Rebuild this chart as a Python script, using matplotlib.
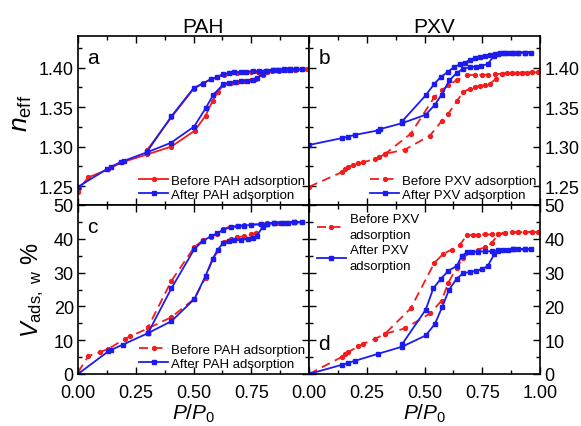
import matplotlib
matplotlib.use("Agg")
import matplotlib.pyplot as plt
from matplotlib.ticker import MultipleLocator

plt.rcParams['font.family'] = ['Liberation Sans', 'DejaVu Sans']
plt.rcParams['mathtext.fontset'] = 'custom'
plt.rcParams['mathtext.rm'] = 'Liberation Sans'
plt.rcParams['mathtext.it'] = 'Liberation Sans:italic'

# ---------------- Panel a: n_eff, PAH ----------------
a_before_x = [0.0, 0.005, 0.045, 0.13, 0.19, 0.299, 0.404, 0.505, 0.552, 0.583, 0.605, 0.629,
              0.662, 0.69, 0.72, 0.75, 0.77, 0.80, 0.82, 0.85, 0.88, 0.91, 0.94, 0.97, 0.99,
              0.97, 0.94, 0.91, 0.87, 0.84, 0.81, 0.78, 0.75, 0.72, 0.69, 0.66, 0.63, 0.60,
              0.575, 0.54, 0.50, 0.404, 0.299]
a_before_y = [1.243, 1.247, 1.261, 1.271, 1.280, 1.290, 1.300, 1.320, 1.339, 1.358, 1.369, 1.3775,
              1.381, 1.382, 1.383, 1.384, 1.386, 1.391, 1.395, 1.397, 1.3975, 1.398, 1.398, 1.398, 1.398,
              1.398, 1.397, 1.3965, 1.396, 1.3958, 1.3955, 1.395, 1.3945, 1.394, 1.3935, 1.393, 1.391, 1.388,
              1.385, 1.380, 1.373, 1.337, 1.2955]
a_after_x = [0.0, 0.126, 0.145, 0.188, 0.198, 0.299, 0.402, 0.503, 0.552, 0.586, 0.629, 0.655,
             0.681, 0.705, 0.730, 0.756, 0.774, 0.799, 0.820, 0.842, 0.866, 0.892, 0.918, 0.943, 0.971,
             0.943, 0.918, 0.892, 0.866, 0.842, 0.813, 0.784, 0.756, 0.727, 0.705, 0.677, 0.655, 0.629,
             0.602, 0.576, 0.540, 0.501, 0.404, 0.299]
a_after_y = [1.249, 1.2716, 1.2746, 1.2809, 1.2818, 1.2928, 1.3047, 1.3254, 1.3483, 1.3657, 1.3788, 1.381,
             1.3818, 1.3826, 1.3835, 1.3847, 1.3869, 1.3924, 1.3958, 1.397, 1.3975, 1.3979, 1.3979, 1.3979, 1.3979,
             1.3979, 1.3975, 1.3975, 1.397, 1.3966, 1.3962, 1.3958, 1.3953, 1.3949, 1.3945, 1.394, 1.3928, 1.392,
             1.388, 1.3856, 1.3797, 1.3742, 1.3381, 1.2936]

# ---------------- Panel b: n_eff, PXV ----------------
b_before_x = [0.0, 0.141, 0.156, 0.170, 0.192, 0.213, 0.235, 0.286, 0.303, 0.329, 0.416, 0.524,
              0.574, 0.603, 0.639, 0.668, 0.697, 0.719, 0.740, 0.762, 0.784, 0.810, 0.834, 0.856,
              0.878, 0.900, 0.920, 0.942, 0.965, 0.993,
              0.965, 0.920, 0.878, 0.834, 0.805, 0.776, 0.747, 0.719, 0.683, 0.639, 0.603, 0.574,
              0.543, 0.440, 0.329]
b_before_y = [1.249, 1.2674, 1.2716, 1.2737, 1.2767, 1.2788, 1.2801, 1.2843, 1.2864, 1.2907, 1.2962, 1.314,
              1.3322, 1.3415, 1.3572, 1.3691, 1.3733, 1.3754, 1.3767, 1.378, 1.3797, 1.3860, 1.3924, 1.3932,
              1.3932, 1.3932, 1.3936, 1.3936, 1.394, 1.394,
              1.394, 1.3936, 1.3932, 1.3924, 1.3915, 1.3911, 1.3907, 1.3907, 1.3903, 1.3839, 1.3775, 1.3712,
              1.3627, 1.3161, 1.2907]
b_after_x = [0.0, 0.141, 0.170, 0.199, 0.297, 0.307, 0.404, 0.505, 0.545, 0.574, 0.608, 0.639,
             0.668, 0.697, 0.721, 0.745, 0.773, 0.802, 0.820, 0.841, 0.863, 0.885, 0.906, 0.935, 0.961,
             0.935, 0.906, 0.877, 0.848, 0.827, 0.805, 0.784, 0.762, 0.740, 0.719, 0.697, 0.675, 0.654,
             0.629, 0.600, 0.571, 0.543, 0.505, 0.404]
b_after_y = [1.302, 1.3106, 1.3127, 1.3148, 1.3203, 1.322, 1.3297, 1.3403, 1.353, 1.3657, 1.3839, 1.3932,
             1.3987, 1.4004, 1.4012, 1.4025, 1.4042, 1.4153, 1.4178, 1.4187, 1.4191, 1.4191, 1.4191, 1.4191, 1.4191,
             1.4191, 1.4191, 1.4191, 1.4191, 1.4187, 1.4174, 1.4157, 1.4148, 1.4131, 1.4119, 1.4097, 1.4064, 1.4042,
             1.4008, 1.3945, 1.3881, 1.3797, 1.3648, 1.3322]

# ---------------- Panel c: V_ads,w %, PAH ----------------
c_before_x = [0.0, 0.045, 0.095, 0.131, 0.203, 0.225, 0.303, 0.404, 0.504, 0.552, 0.583, 0.608,
              0.634, 0.662, 0.690, 0.720, 0.748, 0.770, 0.799, 0.820, 0.850, 0.880, 0.910, 0.940, 0.971,
              0.940, 0.900, 0.860, 0.820, 0.790, 0.750, 0.720, 0.690, 0.660, 0.629, 0.602, 0.576, 0.540,
              0.504, 0.404, 0.303]
c_before_y = [0.5, 5.3, 6.5, 7.4, 10.4, 11.1, 13.5, 16.8, 22.3, 28.5, 33.9, 36.6,
              39.1, 40.0, 40.5, 40.8, 41.3, 41.8, 43.8, 44.4, 44.6, 44.7, 44.8, 44.9, 44.9,
              44.9, 44.8, 44.7, 44.6, 44.4, 44.2, 44.0, 43.8, 43.6, 42.9, 41.5, 40.5, 39.5,
              37.6, 27.5, 13.8]
c_after_x = [0.0, 0.131, 0.145, 0.195, 0.303, 0.404, 0.504, 0.552, 0.583, 0.605, 0.629, 0.655,
             0.677, 0.705, 0.734, 0.756, 0.774, 0.799, 0.820, 0.849, 0.878, 0.907, 0.935, 0.971,
             0.935, 0.892, 0.849, 0.820, 0.791, 0.749, 0.720, 0.691, 0.662, 0.629, 0.602, 0.576, 0.540,
             0.504, 0.404, 0.303]
c_after_y = [0.0, 6.7, 7.2, 8.7, 12.1, 15.6, 22.2, 29.0, 34.1, 36.8, 38.8, 39.3,
             39.5, 39.7, 39.9, 40.1, 40.8, 43.5, 44.4, 44.6, 44.7, 44.8, 44.9, 44.9,
             44.9, 44.8, 44.7, 44.5, 44.3, 44.1, 43.9, 43.7, 43.5, 42.7, 41.6, 40.8, 39.3,
             37.0, 25.3, 12.1]

# ---------------- Panel d: V_ads,w %, PXV ----------------
d_before_x = [0.0, 0.141, 0.156, 0.170, 0.214, 0.235, 0.286, 0.329, 0.416, 0.524, 0.574, 0.603,
              0.639, 0.668, 0.701, 0.733, 0.762, 0.791, 0.820, 0.848, 0.877, 0.906, 0.935, 0.964, 0.993,
              0.964, 0.906, 0.848, 0.820, 0.791, 0.762, 0.733, 0.711, 0.683, 0.654, 0.618, 0.582,
              0.543, 0.440, 0.329]
d_before_y = [0.0, 5.0, 6.0, 6.5, 8.2, 8.9, 10.4, 11.9, 13.5, 17.9, 21.7, 27.0,
              31.5, 34.4, 36.1, 36.8, 37.5, 38.8, 41.3, 41.7, 41.9, 41.9, 42.0, 42.0, 42.0,
              42.0, 41.9, 41.7, 41.5, 41.3, 41.3, 41.2, 41.2, 41.0, 38.3, 36.8, 35.6,
              32.9, 19.4, 11.9]
d_after_x = [0.0, 0.141, 0.170, 0.199, 0.300, 0.404, 0.505, 0.545, 0.577, 0.606, 0.639, 0.668,
             0.697, 0.721, 0.747, 0.773, 0.802, 0.820, 0.841, 0.863, 0.885, 0.906, 0.935, 0.961,
             0.935, 0.885, 0.820, 0.791, 0.762, 0.733, 0.704, 0.683, 0.661, 0.640, 0.603, 0.571,
             0.538, 0.505, 0.404]
d_after_y = [0.0, 2.7, 3.3, 3.9, 6.0, 8.1, 11.4, 14.8, 19.9, 24.9, 28.2, 29.8,
             30.2, 30.5, 31.0, 31.9, 35.4, 36.4, 36.8, 36.8, 36.9, 36.9, 36.9, 36.9,
             36.9, 36.9, 36.6, 36.3, 36.3, 36.2, 36.1, 36.0, 34.9, 32.0, 30.5, 28.2,
             25.3, 19.0, 8.9]

x_ticks = [0.0, 0.25, 0.5, 0.75, 1.0]
x_tick_labels = ["0.00", "0.25", "0.50", "0.75", "1.00"]
n_ticks = [1.25, 1.30, 1.35, 1.40]
n_tick_labels = ["1.25", "1.30", "1.35", "1.40"]
v_ticks = [0, 10, 20, 30, 40, 50]
v_tick_labels = ["0", "10", "20", "30", "40", "50"]
titles = ["PAH", "PXV"]

RED = '#f41c1c'
BLUE = '#1c1cf0'

fig = plt.figure(figsize=(5.81, 4.27), dpi=100)
W, H = 581, 427
def rect(x0, x1, y0, y1):
    return [x0 / W, 1 - y1 / H, (x1 - x0) / W, (y1 - y0) / H]

axa = fig.add_axes(rect(78, 309, 37, 206))
axb = fig.add_axes(rect(309, 540, 37, 206))
axc = fig.add_axes(rect(78, 309, 206, 375))
axd = fig.add_axes(rect(309, 540, 206, 375))

def style(ax, top, right_labels, show_xlabels):
    ax.set_xlim(0, 1)
    ax.xaxis.set_major_locator(MultipleLocator(0.25))
    ax.xaxis.set_minor_locator(MultipleLocator(0.125))
    if top:
        ax.set_ylim(1.226, 1.44)
        ax.set_yticks(n_ticks)
        ax.set_yticklabels(n_tick_labels)
        ax.yaxis.set_minor_locator(MultipleLocator(0.025))
    else:
        ax.set_ylim(0, 50)
        ax.set_yticks(v_ticks)
        ax.set_yticklabels(v_tick_labels)
        ax.yaxis.set_minor_locator(MultipleLocator(5))
    ax.set_xticks(x_ticks)
    ax.set_xticklabels(x_tick_labels if show_xlabels else [])
    ax.tick_params(which='both', direction='in', top=True, bottom=True, left=True, right=True,
                   labelsize=13, width=1.0)
    ax.tick_params(which='major', length=5)
    ax.tick_params(which='minor', length=3)
    ax.tick_params(axis='x', pad=7.5)
    ax.tick_params(axis='y', labelleft=not right_labels, labelright=right_labels, pad=3)
    for s in ax.spines.values():
        s.set_linewidth(1.2)

style(axa, True, False, False)
style(axb, True, True, False)
style(axc, False, False, True)
style(axd, False, True, True)
# left panel 1.00 label hidden (overlaps right panel's 0.00)
axc.set_xticklabels(["0.00", "0.25", "0.50", "0.75", ""])

lw = 1.3
ms = 2.8
axa.plot(a_before_x, a_before_y, '-', color=RED, lw=lw, marker='o', ms=ms, label='Before PAH adsorption')
axa.plot(a_after_x, a_after_y, '-', color=BLUE, lw=lw, marker='s', ms=ms - 0.4, label='After PAH adsorption')
axb.plot(b_before_x, b_before_y, '--', color=RED, lw=lw, marker='o', ms=ms, label='Before PXV adsorption', dashes=(5, 3))
axb.plot(b_after_x, b_after_y, '-', color=BLUE, lw=lw, marker='s', ms=ms - 0.4, label='After PXV adsorption')
axc.plot(c_before_x, c_before_y, '--', color=RED, lw=lw, marker='o', ms=ms, label='Before PAH adsorption', dashes=(5, 3))
axc.plot(c_after_x, c_after_y, '-', color=BLUE, lw=lw, marker='s', ms=ms - 0.4, label='After PAH adsorption')
axd.plot(d_before_x, d_before_y, '--', color=RED, lw=lw, marker='o', ms=ms, label='Before PXV\nadsorption', dashes=(5, 3))
axd.plot(d_after_x, d_after_y, '-', color=BLUE, lw=lw, marker='s', ms=ms - 0.4, label='After PXV\nadsorption')

leg_kw = dict(frameon=False, fontsize=9.5, handlelength=2.2, handletextpad=0.2, labelspacing=0.15,
              borderaxespad=0.1, borderpad=0.2)
axa.legend(loc='lower right', **leg_kw)
axb.legend(loc='lower right', **leg_kw)
axc.legend(loc='lower right', **leg_kw)
leg_d = axd.legend(loc='upper left', frameon=False, fontsize=9.5, handlelength=2.2, handletextpad=0.3,
                   labelspacing=0.25, borderaxespad=0.3, borderpad=0.3)
for t in leg_d.get_texts():
    t.set_linespacing(1.45)

for ax, letter, (tx, ty) in [(axa, 'a', (0.04, 0.84)), (axb, 'b', (0.04, 0.84)),
                             (axc, 'c', (0.04, 0.84)), (axd, 'd', (0.04, 0.15))]:
    ax.text(tx, ty, letter, transform=ax.transAxes, fontsize=15)

axa.set_title(titles[0], fontsize=15, x=0.54, pad=1)
axb.set_title(titles[1], fontsize=15, x=0.54, pad=1)

axa.set_ylabel(r'$n_{\mathrm{eff}}$', fontsize=19)
axc.set_ylabel(r'$V_{\mathrm{ads,\ w}}$ %', fontsize=17)
axc.set_xlabel(r'$P/P_0$', fontsize=15, labelpad=0)
axd.set_xlabel(r'$P/P_0$', fontsize=15, labelpad=0)
axa.yaxis.set_label_coords(-0.19, 0.55)
axc.yaxis.set_label_coords(-0.14, 0.5)

fig.savefig('out.png', dpi=100)
